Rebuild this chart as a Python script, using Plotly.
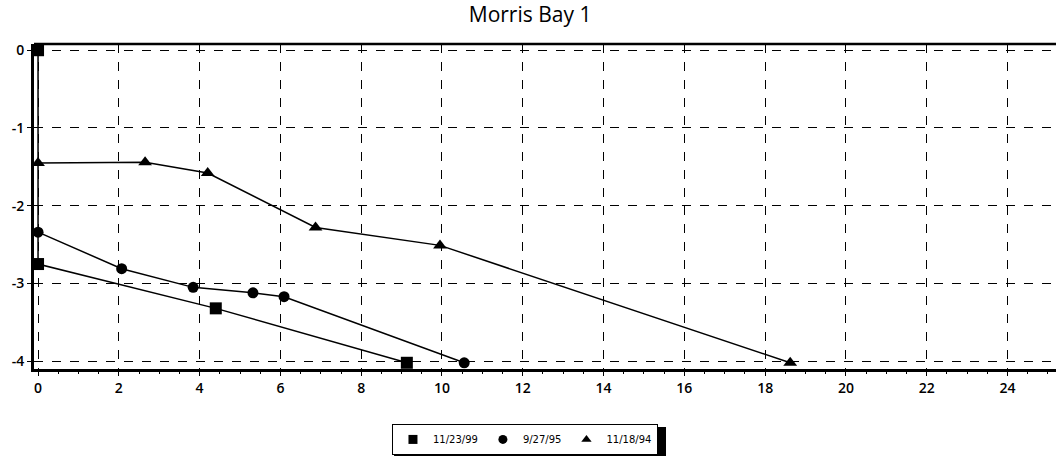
import plotly.graph_objects as go

title = "Morris Bay 1"

sq_name = "11/23/99"
sq_x = [0.0, 0.0, 4.4, 9.13]
sq_y = [0.0, -2.75, -3.32, -4.02]

ci_name = "9/27/95"
ci_x = [0.0, 2.07, 3.84, 5.32, 6.09, 10.55]
ci_y = [-2.34, -2.81, -3.05, -3.12, -3.17, -4.02]

tr_name = "11/18/94"
tr_x = [0.0, 2.65, 4.2, 6.87, 9.95, 18.62]
tr_y = [-1.45, -1.44, -1.58, -2.28, -2.51, -4.02]

x_ticks = list(range(0, 25, 2))
y_ticks = [0, -1, -2, -3, -4]

FONT = "Open Sans, Noto Sans, sans-serif"
LFONT = "DejaVu Sans, sans-serif"

fig = go.Figure()
for name, xs, ys, sym, size in [
    (sq_name, sq_x, sq_y, "square", 12),
    (ci_name, ci_x, ci_y, "circle", 11),
    (tr_name, tr_x, tr_y, "triangle-up", 12),
]:
    fig.add_trace(go.Scatter(
        x=xs, y=ys, name=name, mode="lines+markers", showlegend=False,
        line=dict(color="black", width=1.5),
        marker=dict(symbol=sym, size=size, color="black"),
    ))
    fig.add_trace(go.Scatter(
        x=[None], y=[None], name=name, mode="markers", showlegend=True,
        marker=dict(symbol=sym, size=9, color="black"),
    ))

fig.update_layout(
    width=1056, height=458,
    margin=dict(l=34, r=0, t=44, b=89, autoexpand=False),
    paper_bgcolor="white", plot_bgcolor="white",
    title=dict(text=title, x=0.502, xanchor="center", y=0.985, yanchor="top",
               font=dict(family=FONT, size=21, color="black", weight=500)),
    font=dict(family=FONT, color="black"),
    showlegend=True,
    legend=dict(orientation="h", x=0.4804, xanchor="center", y=-0.169, yanchor="top",
                bordercolor="black", borderwidth=1, bgcolor="white",
                font=dict(family=LFONT, size=10, color="black"),
                itemwidth=30, tracegroupgap=0),
)
fig.update_xaxes(
    range=[-0.1, 25.2], tickvals=x_ticks, ticktext=[str(v) for v in x_ticks],
    showgrid=True, gridcolor="black", griddash="dash", gridwidth=1,
    showline=True, linecolor="black", linewidth=3,
    ticks="outside", ticklen=4, tickcolor="black", tickwidth=1,
    minor=dict(dtick=0.5, ticks="outside", ticklen=2, tickcolor="black", showgrid=False),
    zeroline=False, automargin=False,
    tickfont=dict(family=FONT, size=14, color="black", weight=600),
)
fig.update_yaxes(
    range=[-4.1, 0.08], tickvals=y_ticks, ticktext=[str(v) for v in y_ticks],
    showgrid=True, gridcolor="black", griddash="dash", gridwidth=1,
    showline=True, linecolor="black", linewidth=3,
    ticks="outside", ticklen=4, tickcolor="black", tickwidth=1,
    zeroline=False, automargin=False,
    tickfont=dict(family=FONT, size=14, color="black", weight=600),
)
fig.add_shape(type="line", xref="paper", yref="paper", x0=0, x1=1, y0=1, y1=1,
              line=dict(color="black", width=2.5))
# legend drop shadow
fig.add_shape(type="rect", xref="paper", yref="paper",
              x0=0.3523, x1=0.6184, y0=-0.2677, y1=-0.1785,
              fillcolor="black", line=dict(width=0), layer="above")

fig.write_html("out.html", config={"displayModeBar": False},
               post_script="document.body.style.margin='0';")
